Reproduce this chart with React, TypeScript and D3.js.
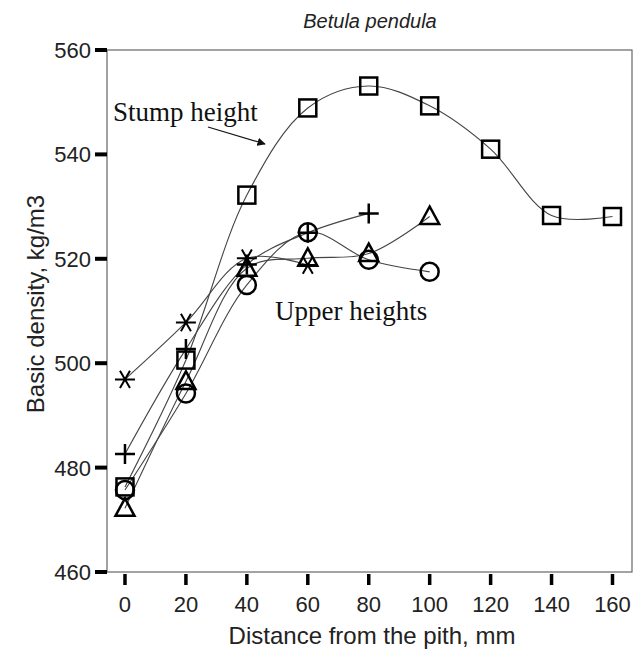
import React from "react";
import * as d3 from "d3";

const stumpX = [0, 20, 40, 60, 80, 100, 120, 140, 160];
const stumpY = [476.3, 500.6, 532.2, 548.9, 553.1, 549.3, 541.0, 528.3, 528.1];
const starX = [0, 20, 40, 60];
const starY = [496.9, 507.8, 520.1, 518.8];
const plusX = [0, 20, 40, 60, 80];
const plusY = [482.6, 502.7, 518.9, 525.0, 528.7];
const triX = [0, 20, 40, 60, 80, 100];
const triY = [472.2, 496.5, 518.2, 520.1, 521.0, 528.1];
const circX = [0, 20, 40, 60, 80, 100];
const circY = [475.7, 494.2, 515.0, 525.1, 519.8, 517.5];
const xTicks = [0, 20, 40, 60, 80, 100, 120, 140, 160];
const yTicks = [460, 480, 500, 520, 540, 560];

const W = 637, H = 652;
const L = 107, R = 632, T = 50, B = 572;

export default function App() {
  const x = d3.scaleLinear().domain([-5.9, 166.4]).range([L, R]);
  const y = d3.scaleLinear().domain([460, 560]).range([B, T]);
  const line = d3
    .line<[number, number]>()
    .x((d) => x(d[0]))
    .y((d) => y(d[1]))
    .curve(d3.curveCatmullRom.alpha(0.5));
  const zip = (a: number[], b: number[]) => a.map((v, i) => [v, b[i]] as [number, number]);
  const series = [
    { k: "stump", d: zip(stumpX, stumpY), m: "square" },
    { k: "star", d: zip(starX, starY), m: "star" },
    { k: "plus", d: zip(plusX, plusY), m: "plus" },
    { k: "tri", d: zip(triX, triY), m: "tri" },
    { k: "circ", d: zip(circX, circY), m: "circle" },
  ];
  const marker = (m: string, px: number, py: number, key: string) => {
    const sw = 2.5;
    const st = { fill: "none", stroke: "#000", strokeWidth: sw };
    if (m === "square") return <rect key={key} x={px - 8.5} y={py - 8.5} width={17} height={17} {...st} />;
    if (m === "circle") return <circle key={key} cx={px} cy={py} r={9} {...st} />;
    if (m === "tri") return <path key={key} d={`M${px},${py - 10}L${px + 9.5},${py + 7.5}L${px - 9.5},${py + 7.5}Z`} {...st} strokeLinejoin="miter" />;
    if (m === "plus") return <path key={key} d={`M${px - 10},${py}H${px + 10}M${px},${py - 10}V${py + 10}`} {...st} />;
    const r = 10;
    const a = Math.PI / 3;
    const p = [0, a, 2 * a].map((t) => `M${px - r * Math.cos(t)},${py - r * Math.sin(t)}L${px + r * Math.cos(t)},${py + r * Math.sin(t)}`).join("");
    return <path key={key} d={p} {...st} strokeWidth={2} />;
  };
  const font = "'Liberation Sans', Arial, sans-serif";
  const serif = "'Liberation Serif', 'Times New Roman', serif";
  return (
    <svg width={W} height={H} style={{ position: "absolute", left: 0, top: 0, background: "#fff" }}>
      <rect x={0} y={0} width={W} height={H} fill="#fff" />
      <text x={370} y={28} textAnchor="middle" fontFamily={font} fontStyle="italic" fontSize={20} fill="#222">Betula pendula</text>
      <rect x={L} y={T} width={R - L} height={B - T} fill="none" stroke="#666" strokeWidth={1.2} />
      {yTicks.map((t) => (
        <g key={t}>
          <line x1={95} x2={L} y1={y(t)} y2={y(t)} stroke="#000" strokeWidth={4} />
          <text x={91} y={y(t) + 8} textAnchor="end" fontFamily={font} fontSize={22} fill="#222">{t}</text>
        </g>
      ))}
      {xTicks.map((t) => (
        <g key={t}>
          <line x1={x(t)} x2={x(t)} y1={B + 2} y2={B + 13} stroke="#000" strokeWidth={3.5} />
          <text x={x(t)} y={612} textAnchor="middle" fontFamily={font} fontSize={22} fill="#222">{t}</text>
        </g>
      ))}
      <text x={372} y={644} textAnchor="middle" fontFamily={font} fontSize={24} fill="#222">Distance from the pith, mm</text>
      <text transform={`translate(44,304) rotate(-90)`} textAnchor="middle" fontFamily={font} fontSize={24} fill="#222">Basic density, kg/m3</text>
      {series.map((s) => (
        <path key={s.k} d={line(s.d) || ""} fill="none" stroke="#444" strokeWidth={1.1} />
      ))}
      {series.map((s) => s.d.map((d, i) => marker(s.m, x(d[0]), y(d[1]), `${s.k}${i}`)))}
      <text x={113} y={121} fontFamily={serif} fontSize={27} fill="#111">Stump height</text>
      <defs>
        <marker id="ah" viewBox="0 0 10 10" refX={9} refY={5} markerWidth={7} markerHeight={7} orient="auto">
          <path d="M0,0L10,5L0,10Z" fill="#111" />
        </marker>
      </defs>
      <line x1={208} y1={127} x2={265} y2={144} stroke="#111" strokeWidth={1.2} markerEnd="url(#ah)" />
      <text x={275} y={320} fontFamily={serif} fontSize={27} fill="#111">Upper heights</text>
    </svg>
  );
}
